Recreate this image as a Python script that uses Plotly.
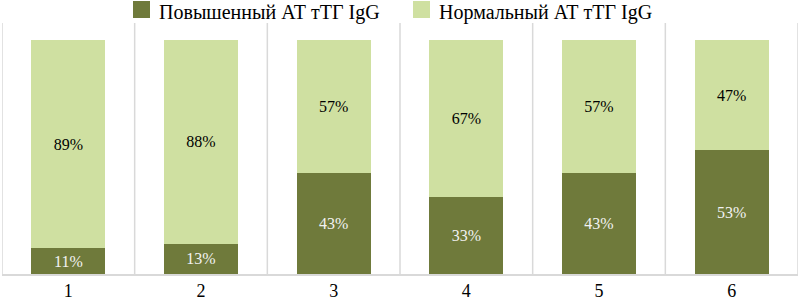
import plotly.graph_objects as go

categories = ["1", "2", "3", "4", "5", "6"]
elevated = [11, 13, 43, 33, 43, 53]
normal = [89, 88, 57, 67, 57, 47]
series_names = ["Повышенный АТ тТГ IgG", "Нормальный АТ тТГ IgG"]
dark = "#6f7a3b"
light = "#cfe0a1"
font_family = "Liberation Serif, Times New Roman, serif"

W, H = 800, 304
ML, MR, MT, MB = 2, 2, 23, 30
PW, PH = W - ML - MR, H - MT - MB


def px_x(px):
    return (px - ML) / PW


def px_y(py):
    return (H - MB - py) / PH


fig = go.Figure()
fig.add_trace(go.Bar(
    x=categories, y=elevated, name=series_names[0], marker=dict(color=dark, line=dict(width=0)),
    text=[f"{v}%" for v in elevated], textposition="inside", insidetextanchor="middle",
    textfont=dict(color="#f2f2f2", size=16, family=font_family), width=0.56,
))
fig.add_trace(go.Bar(
    x=categories, y=normal, name=series_names[1], marker=dict(color=light, line=dict(width=0)),
    text=[f"{v}%" for v in normal], textposition="inside", insidetextanchor="middle",
    textfont=dict(color="#000000", size=16, family=font_family), width=0.56,
))

shapes = []
for i in range(len(categories) + 1):
    shapes.append(dict(type="line", xref="x", yref="paper", x0=i - 0.5, x1=i - 0.5, y0=0, y1=1,
                       line=dict(color="#d9d9d9", width=1.5), layer="below"))

# manual legend (large square swatches like the reference)
annotations = []
legend_items = [(series_names[0], dark, 133), (series_names[1], light, 413)]
for name, color, sx in legend_items:
    shapes.append(dict(type="rect", xref="paper", yref="paper",
                       x0=px_x(sx), x1=px_x(sx + 17), y0=px_y(18), y1=px_y(1),
                       fillcolor=color, line=dict(width=0)))
    annotations.append(dict(xref="paper", yref="paper", x=px_x(sx + 25), y=px_y(12),
                            xanchor="left", yanchor="middle", text=name, showarrow=False,
                            borderpad=0,
                            font=dict(size=20, family=font_family, color="#000000")))

fig.update_layout(
    barmode="stack",
    barnorm="percent",
    width=W, height=H,
    margin=dict(l=ML, r=MR, t=MT, b=MB),
    paper_bgcolor="white", plot_bgcolor="white",
    font=dict(family=font_family, color="#000000"),
    showlegend=False,
    xaxis=dict(showgrid=False, showline=True, linecolor="#d9d9d9", linewidth=1.5,
               ticks="", tickfont=dict(size=18, family=font_family), range=[-0.5, 5.5]),
    yaxis=dict(range=[0, 107.3], showgrid=False, showticklabels=False, zeroline=False),
    shapes=shapes,
    annotations=annotations,
    bargap=0.44,
)

fig.write_html("out.html")
